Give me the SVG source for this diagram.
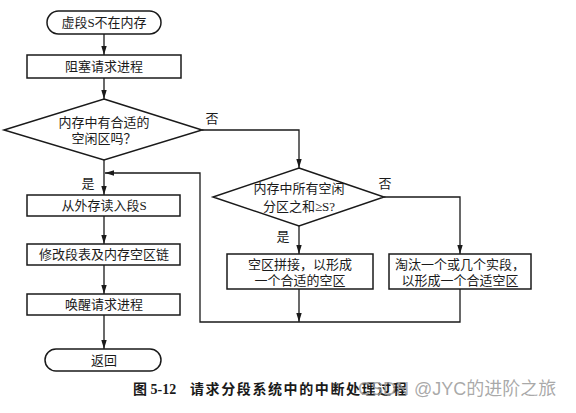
<svg xmlns="http://www.w3.org/2000/svg" width="576" height="413" viewBox="0 0 576 413">
<style>
.n{fill:#fff;stroke:#1a1a1a;stroke-width:1.5}
.t{font-family:"Liberation Serif","Noto Sans CJK SC",serif;font-size:13px;fill:#1a1a1a;text-anchor:middle;dominant-baseline:central}
.c{fill:none;stroke:#1a1a1a;stroke-width:1.3}
.cap{font-family:"Liberation Serif","Noto Sans CJK SC",serif;font-size:14px;fill:#1a1a1a;dominant-baseline:central}
.wm{font-family:"Liberation Sans","Noto Sans CJK SC",sans-serif;font-size:18px;fill:#9a9a9a;fill-opacity:0.85;dominant-baseline:central}
</style>
<defs>
<marker id="a" markerWidth="9" markerHeight="6" refX="9" refY="3" orient="auto" markerUnits="userSpaceOnUse">
<path d="M0,0.3 L9,3 L0,5.7 Z" fill="#1a1a1a"/>
</marker>
</defs>
<rect width="576" height="413" fill="#fff"/>
<g id="connectors">
<path class="c" d="M104,34 V55" marker-end="url(#a)"/>
<path class="c" d="M104,78 V99" marker-end="url(#a)"/>
<path class="c" d="M104,160 V195" marker-end="url(#a)"/>
<path class="c" d="M202,130 H299 V168" marker-end="url(#a)"/>
<path class="c" d="M384,197 H460 V254" marker-end="url(#a)"/>
<path class="c" d="M299,226 V254" marker-end="url(#a)"/>
<path class="c" d="M104,216 V244" marker-end="url(#a)"/>
<path class="c" d="M104,265 V294" marker-end="url(#a)"/>
<path class="c" d="M104,315 V349" marker-end="url(#a)"/>
<path class="c" d="M299,289 V322" marker-end="url(#a)"/>
<path class="c" d="M460,289 V322 H200 V173 H105" marker-end="url(#a)"/>
<text class="t" x="212" y="118">否</text>
<text class="t" x="385" y="183">否</text>
<text class="t" x="88" y="183">是</text>
<text class="t" x="283" y="236">是</text>
</g>
<g id="start">
<rect class="n" x="47" y="11" width="114" height="23" rx="11.5"/>
<text class="t" x="104" y="22.5">虚段S不在内存</text>
</g>
<g id="block">
<rect class="n" x="27" y="55" width="154" height="23"/>
<text class="t" x="104" y="66.5">阻塞请求进程</text>
</g>
<g id="d1">
<polygon class="n" points="104,99 202,130 104,160 4,130"/>
<text class="t" x="104" y="122">内存中有合适的</text>
<text class="t" x="104" y="138">空闲区吗？</text>
</g>
<g id="d2">
<polygon class="n" points="299,168 384,197 299,226 213,197"/>
<text class="t" x="299" y="188">内存中所有空闲</text>
<text class="t" x="299" y="206">分区之和≥S?</text>
</g>
<g id="merge">
<rect class="n" x="227" y="254" width="146" height="35"/>
<text class="t" x="300" y="264">空区拼接，以形成</text>
<text class="t" x="300" y="280">一个合适的空区</text>
</g>
<g id="evict">
<rect class="n" x="389" y="254" width="142" height="35"/>
<text class="t" x="460" y="264">淘汰一个或几个实段，</text>
<text class="t" x="460" y="280">以形成一个合适空区</text>
</g>
<g id="read">
<rect class="n" x="27" y="195" width="153" height="21"/>
<text class="t" x="104" y="205.5">从外存读入段S</text>
</g>
<g id="modify">
<rect class="n" x="27" y="244" width="153" height="21"/>
<text class="t" x="104" y="254.5">修改段表及内存空区链</text>
</g>
<g id="wake">
<rect class="n" x="27" y="294" width="153" height="21"/>
<text class="t" x="104" y="304.5">唤醒请求进程</text>
</g>
<g id="ret">
<rect class="n" x="45" y="349" width="116" height="22" rx="11"/>
<text class="t" x="104" y="360">返回</text>
</g>
<text class="cap" x="133" y="389" font-weight="bold">图 5-12</text>
<text class="cap" x="190" y="389" letter-spacing="1.6" font-weight="bold">请求分段系统中的中断处理过程</text>
<text class="wm" x="358" y="389">CSDN @JYC的进阶之旅</text>
</svg>
